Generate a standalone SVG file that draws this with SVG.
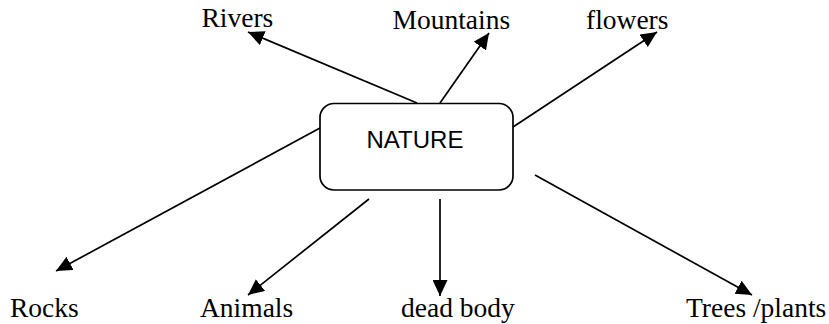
<svg xmlns="http://www.w3.org/2000/svg" width="829" height="324" viewBox="0 0 829 324">
<style>
.lbl{font-family:"Liberation Serif","Times New Roman",serif;font-size:27.5px;fill:#000}
.ctr{font-family:"Liberation Sans",Arial,sans-serif;font-size:24px;fill:#000}
.box{fill:#fff;stroke:#000;stroke-width:1.7}
.con{stroke:#000;stroke-width:1.7;fill:none;marker-end:url(#ah)}
</style>
<defs>
<marker id="ah" markerUnits="userSpaceOnUse" markerWidth="17" markerHeight="15" refX="16" refY="7.5" orient="auto">
<path d="M0,0 L16,7.5 L0,15 Z" fill="#000"/>
</marker>
</defs>
<rect width="829" height="324" fill="#fff"/>
<g id="connectors">
<line class="con" x1="417" y1="103" x2="248" y2="32"/>
<line class="con" x1="440" y1="103" x2="489" y2="33"/>
<line class="con" x1="513" y1="127" x2="657" y2="32"/>
<line class="con" x1="320" y1="128" x2="56" y2="271"/>
<line class="con" x1="369" y1="199" x2="248" y2="295"/>
<line class="con" x1="440" y1="199" x2="440" y2="296"/>
<line class="con" x1="535" y1="175" x2="752" y2="295"/>
</g>
<g id="nature">
<rect class="box" x="320" y="103.5" width="193" height="86.5" rx="14" ry="14"/>
<text class="ctr" x="366.5" y="147.5">NATURE</text>
</g>
<g id="rivers"><text class="lbl" x="201.5" y="27">Rivers</text></g>
<g id="mountains"><text class="lbl" x="392.5" y="29">Mountains</text></g>
<g id="flowers"><text class="lbl" x="586" y="29">flowers</text></g>
<g id="rocks"><text class="lbl" x="10" y="317">Rocks</text></g>
<g id="animals"><text class="lbl" x="200" y="317">Animals</text></g>
<g id="deadbody"><text class="lbl" x="401" y="317">dead body</text></g>
<g id="trees"><text class="lbl" x="686" y="317">Trees /plants</text></g>
</svg>
